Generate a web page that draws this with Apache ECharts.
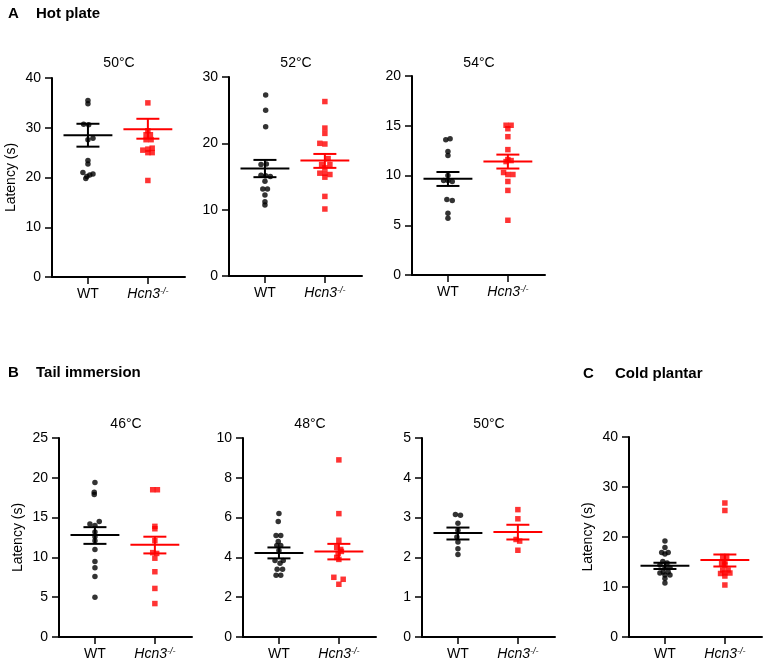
<!DOCTYPE html>
<html>
<head>
<meta charset="utf-8">
<script src="https://cdn.jsdelivr.net/npm/echarts@6/dist/echarts.min.js"></script>
<style>html,body{margin:0;padding:0;background:#fff}#c{width:767px;height:666px}</style>
</head>
<body>
<div id="c"></div>
<script>
// ---------- DATA ----------
const groupNames = ['WT', 'Hcn3'];
const groupX = [1, 2.667];

// Hot plate 50°C
const hot50_wt = [35.5, 34.8, 30.7, 30.6, 27.9, 27.6, 23.4, 22.7, 21.0, 20.7, 20.5, 20.2, 19.8];
const hot50_wt_jit = [0, 0, -0.12, 0.02, 0.14, 0, 0, 0, -0.14, 0.14, 0.05, -0.03, -0.06];
const hot50_ko = [35.0, 29.4, 28.6, 28.6, 27.6, 27.6, 25.9, 25.7, 25.5, 25.0, 25.0, 19.4];
const hot50_ko_jit = [0, 0, -0.05, 0.07, -0.05, 0.09, 0.12, 0, -0.14, 0, 0.12, 0];
const hot50_stats = [[28.5, 26.2, 30.8], [29.7, 27.8, 31.8]];

// Hot plate 52°C
const hot52_wt = [27.3, 25.0, 22.5, 16.8, 16.9, 15.2, 15.1, 15.0, 14.3, 13.1, 13.1, 12.2, 11.2, 10.7];
const hot52_wt_jit = [0.02, 0.02, 0.02, -0.11, 0.04, -0.11, 0.02, 0.15, 0, -0.06, 0.07, 0, 0, 0];
const hot52_ko = [26.3, 22.3, 21.5, 20.0, 19.9, 17.7, 16.8, 16.8, 16.3, 15.5, 15.5, 15.3, 14.9, 12.0, 10.1];
const hot52_ko_jit = [0, 0, 0, -0.14, 0, 0.09, -0.09, 0.14, 0, -0.14, 0, 0.14, 0, 0, 0];
const hot52_stats = [[16.2, 14.9, 17.5], [17.4, 16.3, 18.4]];

// Hot plate 54°C
const hot54_wt = [13.6, 13.7, 12.4, 12.0, 10.0, 9.5, 9.5, 9.4, 7.6, 7.5, 6.2, 5.7];
const hot54_wt_jit = [-0.06, 0.06, 0, 0, 0, -0.12, 0, 0.12, -0.03, 0.12, 0, 0];
const hot54_ko = [15.05, 15.05, 14.7, 13.9, 12.6, 11.6, 11.5, 11.4, 10.3, 10.1, 10.1, 9.4, 8.5, 5.5];
const hot54_ko_jit = [-0.05, 0.09, 0, 0, 0, 0, 0.09, -0.05, -0.12, 0, 0.14, 0, 0, 0];
const hot54_stats = [[9.67, 8.95, 10.35], [11.4, 10.7, 12.1]];

// Tail immersion 46°C
const tail46_wt = [19.4, 18.2, 17.9, 14.5, 14.2, 14.0, 13.2, 12.6, 12.1, 11.0, 9.5, 8.7, 7.6, 5.0];
const tail46_wt_jit = [0, -0.02, -0.02, 0.12, -0.14, 0, 0, 0, 0, 0, 0, 0, 0, 0];
const tail46_ko = [18.5, 18.5, 13.9, 13.6, 12.1, 10.6, 10.5, 9.9, 8.2, 6.1, 4.2];
const tail46_ko_jit = [-0.06, 0.07, 0, 0, 0, -0.06, 0.05, 0, 0, 0, 0];
const tail46_stats = [[12.8, 11.7, 13.8], [11.6, 10.5, 12.6]];

// Tail immersion 48°C
const tail48_wt = [6.2, 5.8, 5.1, 5.1, 4.8, 4.6, 4.6, 4.35, 3.85, 3.85, 3.7, 3.4, 3.4, 3.1, 3.1];
const tail48_wt_jit = [0, -0.02, -0.08, 0.05, -0.02, -0.06, 0.05, 0, -0.11, 0.12, 0.03, -0.05, 0.1, -0.08, 0.05];
const tail48_ko = [8.9, 6.2, 4.86, 4.5, 4.4, 4.2, 4.3, 4.0, 3.9, 3.0, 2.9, 2.65];
const tail48_ko_jit = [0, 0, 0, -0.06, 0.05, -0.02, 0.07, -0.06, 0, -0.14, 0.12, 0];
const tail48_stats = [[4.22, 3.95, 4.5], [4.3, 3.9, 4.68]];

// Tail immersion 50°C
const tail50_wt = [3.08, 3.06, 2.86, 2.68, 2.51, 2.39, 2.22, 2.07];
const tail50_wt_jit = [-0.07, 0.07, 0, 0, -0.03, 0, 0, 0];
const tail50_ko = [3.2, 2.97, 2.45, 2.41, 2.18];
const tail50_ko_jit = [0, 0, -0.05, 0.05, 0];
const tail50_stats = [[2.61, 2.45, 2.75], [2.64, 2.45, 2.82]];

// Cold plantar
const cold_wt = [19.2, 17.9, 16.9, 16.9, 16.6, 15.1, 14.8, 14.4, 13.85, 13.9, 13.0, 13.0, 12.8, 12.4, 12.4, 11.7, 10.8];
const cold_wt_jit = [0, 0, -0.09, 0.09, 0, -0.06, 0.06, -0.14, 0, 0.14, -0.05, 0.09, -0.14, 0, 0.14, 0, 0];
const cold_ko = [26.8, 25.3, 16.1, 16.1, 15.05, 14.7, 14.4, 13.4, 13.4, 12.8, 12.7, 12.8, 12.2, 10.4];
const cold_ko_jit = [0, 0, -0.06, 0.05, 0, -0.09, 0, -0.06, 0.09, 0, -0.12, 0.14, 0, 0];
const cold_stats = [[14.25, 13.6, 14.85], [15.4, 14.1, 16.5]];

// y axis ranges / ticks
const yMax = [40, 30, 20, 25, 10, 5, 40];
const yStep = [10, 10, 5, 5, 2, 1, 10];
const panelTitles = ['50°C', '52°C', '54°C', '46°C', '48°C', '50°C', ''];

// ---------- LAYOUT ----------
const layout = [
  {left: 52, top: 78, h: 199, yName: true},
  {left: 229, top: 77, h: 199, yName: false},
  {left: 412, top: 76, h: 199, yName: false},
  {left: 59, top: 438, h: 199, yName: true},
  {left: 243, top: 438, h: 199, yName: false},
  {left: 422, top: 438, h: 199, yName: false},
  {left: 629, top: 437, h: 200, yName: true}
];
const W = 133;
const panelData = [
  [hot50_wt, hot50_wt_jit, hot50_ko, hot50_ko_jit, hot50_stats],
  [hot52_wt, hot52_wt_jit, hot52_ko, hot52_ko_jit, hot52_stats],
  [hot54_wt, hot54_wt_jit, hot54_ko, hot54_ko_jit, hot54_stats],
  [tail46_wt, tail46_wt_jit, tail46_ko, tail46_ko_jit, tail46_stats],
  [tail48_wt, tail48_wt_jit, tail48_ko, tail48_ko_jit, tail48_stats],
  [tail50_wt, tail50_wt_jit, tail50_ko, tail50_ko_jit, tail50_stats],
  [cold_wt, cold_wt_jit, cold_ko, cold_ko_jit, cold_stats]
];

const FONT = '"Liberation Sans", Arial, sans-serif';
const RED = '#ff0000';
const BLACK = '#000000';
const MEAN_HALF = 0.68, CAP_HALF = 0.32;

const grid = [], xAxis = [], yAxis = [], series = [], graphic = [];

layout.forEach((L, i) => {
  grid.push({left: L.left, top: L.top, width: W, height: L.h, containLabel: false, outerBoundsMode: 'none'});
  xAxis.push({
    type: 'value', gridIndex: i, min: 0, max: 3.7,
    splitLine: {show: false},
    axisLine: {show: true, lineStyle: {color: BLACK, width: 2}},
    axisTick: {show: true, length: 7, lineStyle: {color: BLACK, width: 1.5}, customValues: groupX},
    axisLabel: {
      customValues: groupX, margin: 10, color: BLACK, fontSize: 14, fontFamily: FONT,
      formatter: v => v < 1.5 ? groupNames[0] : '{i|' + groupNames[1] + '}{s|-/-}',
      rich: {
        i: {fontStyle: 'italic', fontSize: 14, fontFamily: FONT, color: BLACK},
        s: {fontStyle: 'italic', fontSize: 9, fontFamily: FONT, color: BLACK, verticalAlign: 'top', padding: [0, 0, 6, 0]}
      }
    }
  });
  yAxis.push({
    type: 'value', gridIndex: i, min: 0, max: yMax[i], interval: yStep[i],
    splitLine: {show: false},
    axisLine: {show: true, lineStyle: {color: BLACK, width: 2}},
    axisTick: {show: true, length: 7, lineStyle: {color: BLACK, width: 1.5}},
    axisLabel: {color: BLACK, fontSize: 14, fontFamily: FONT, margin: 11},
    name: L.yName ? 'Latency (s)' : '',
    nameLocation: 'middle', nameGap: 34, nameRotate: 90,
    nameTextStyle: {color: BLACK, fontSize: 14, fontFamily: FONT}
  });
  const [wt, wtj, ko, koj, stats] = panelData[i];
  // mean ± SEM
  series.push({
    type: 'custom', xAxisIndex: i, yAxisIndex: i, z: 3,
    data: stats.map((s, g) => [groupX[g], s[0], s[1], s[2], g]),
    renderItem: (params, api) => {
      const cx = api.value(0), m = api.value(1), lo = api.value(2), hi = api.value(3);
      const col = api.value(4) === 0 ? BLACK : RED;
      const p = (x, y) => api.coord([x, y]);
      const ln = (a, b) => ({type: 'line', shape: {x1: a[0], y1: a[1], x2: b[0], y2: b[1]}, style: {stroke: col, lineWidth: 2}});
      return {type: 'group', children: [
        ln(p(cx - MEAN_HALF, m), p(cx + MEAN_HALF, m)),
        ln(p(cx, lo), p(cx, hi)),
        ln(p(cx - CAP_HALF, lo), p(cx + CAP_HALF, lo)),
        ln(p(cx - CAP_HALF, hi), p(cx + CAP_HALF, hi))
      ]};
    }
  });
  series.push({
    type: 'scatter', xAxisIndex: i, yAxisIndex: i, symbol: 'circle', symbolSize: 5.5, z: 2,
    itemStyle: {color: BLACK}, data: wt.map((v, k) => [groupX[0] + wtj[k], v])
  });
  series.push({
    type: 'scatter', xAxisIndex: i, yAxisIndex: i, symbol: 'rect', symbolSize: 5.5, z: 2,
    itemStyle: {color: RED}, data: ko.map((v, k) => [groupX[1] + koj[k], v])
  });
  if (panelTitles[i]) {
    graphic.push({
      type: 'text', x: L.left + 67, y: (i < 3 ? 63 : 424),
      style: {text: panelTitles[i], fill: BLACK, font: '14px ' + FONT, textAlign: 'center', textVerticalAlign: 'middle'}
    });
  }
});

const header = (x, y, t) => ({type: 'text', x: x, y: y, style: {text: t, fill: BLACK, font: 'bold 15px ' + FONT, textVerticalAlign: 'middle'}});
graphic.push(header(8, 14, 'A'), header(36, 14, 'Hot plate'));
graphic.push(header(8, 373, 'B'), header(36, 373, 'Tail immersion'));
graphic.push(header(583, 374, 'C'), header(615, 374, 'Cold plantar'));

const chart = echarts.init(document.getElementById('c'), null, {renderer: 'canvas'});
chart.setOption({
  animation: false,
  backgroundColor: '#ffffff',
  textStyle: {fontFamily: FONT},
  grid, xAxis, yAxis, series,
  graphic: {elements: graphic}
});
</script>
</body>
</html>
